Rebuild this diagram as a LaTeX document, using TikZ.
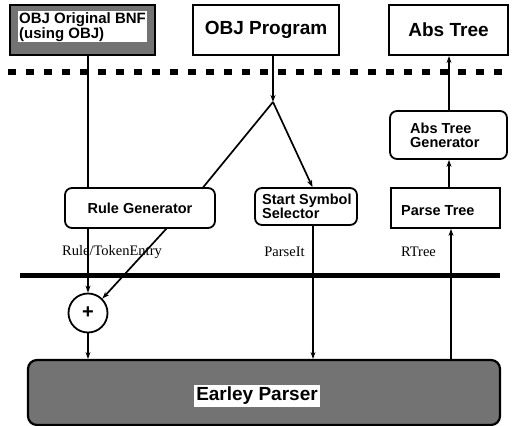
\documentclass[tikz,border=0pt]{standalone}
\usepackage{fontspec}
\setmainfont{Liberation Serif}
\newfontfamily\hv{Liberation Sans}
\usetikzlibrary{arrows.meta}
\begin{document}
\begin{tikzpicture}[x=1pt,y=-1pt,
  box/.style={draw=black,line width=2.2pt,inner sep=0pt,font=\hv\bfseries},
  rbox/.style={draw=black,line width=1.8pt,rounded corners=7pt,inner sep=0pt,font=\hv\bfseries},
  shaded/.style={fill=black!55},
  hl/.style={fill=white,inner sep=1pt,font=\hv\bfseries},
  conn/.style={line width=1.7pt},
  arr/.style={line width=1.7pt,-{Stealth[length=7pt,width=5pt]}},
  lab/.style={font=\fontsize{14.5}{16}\selectfont,inner sep=0pt}
]
\useasboundingbox (0,0) rectangle (512,426);
% top boxes
\node[box,shaded,minimum width=145pt,minimum height=50pt] (bnf) at (82.5,30) {};
\node[hl,anchor=north west,align=left,font=\hv\bfseries\fontsize{15}{12}\selectfont] (bnft) at (18,11) {OBJ Original BNF\\(using OBJ)};
\node[box,minimum width=146pt,minimum height=50pt,font=\hv\bfseries\fontsize{19}{22}\selectfont] (prog) at (266,30) {OBJ Program};
\node[box,minimum width=119pt,minimum height=50pt,font=\hv\bfseries\fontsize{19}{22}\selectfont] (abs) at (448.5,30) {Abs Tree};
% separators
\draw[line width=6pt,dash pattern=on 8pt off 10pt] (8,72) -- (505,72);
\draw[line width=5pt] (20,275) -- (500,275);
% middle boxes
\node[rbox,minimum width=117pt,minimum height=48pt] (absgen) at (448.5,135) {};
\node[anchor=west,align=left,inner sep=0pt,font=\hv\bfseries\fontsize{14.5}{14}\selectfont] at (410,135) {Abs Tree\\Generator};
\node[rbox,minimum width=150pt,minimum height=40pt,font=\hv\bfseries\fontsize{14.5}{16}\selectfont] (rulegen) at (140,208) {\raisebox{-3pt}{Rule Generator}};
\node[rbox,minimum width=102pt,minimum height=37pt] (start) at (306,206.5) {};
\node[anchor=west,align=left,inner sep=0pt,font=\hv\bfseries\fontsize{14.5}{14}\selectfont] at (262,206.5) {Start Symbol\\Selector};
\node[box,line width=1.8pt,minimum width=109pt,minimum height=40pt] (parse) at (445.5,208) {};
\node[anchor=west,inner sep=0pt,font=\hv\bfseries\fontsize{14.5}{16}\selectfont] at (401,211) {Parse Tree};
% plus
\node[circle,draw=black,line width=1.8pt,minimum size=39pt,inner sep=0pt,font=\hv\bfseries\fontsize{20}{20}\selectfont] (plus) at (88,313) {+};
% Earley parser
\node[draw=black,line width=2.2pt,rounded corners=9pt,shaded,minimum width=472pt,minimum height=65pt] (earley) at (264,392.5) {};
\node[hl,inner sep=2pt,font=\hv\bfseries\fontsize{19}{22}\selectfont] (earleyt) at (257,396) {Earley Parser};
% labels
\node[lab] at (112,252) {Rule/TokenEntry};
\node[lab] at (284.5,252) {ParseIt};
\node[lab] at (418.5,252) {RTree};
% connectors
\coordinate (split) at (273,102);
\draw[conn] (bnf.south -| plus.north) -- (rulegen.north -| plus.north);
\draw[arr] (prog.south -| split) -- (split);
\draw[conn] (split) -- (202,188.7);
\draw[arr] (split) -- (start.north -| 312.5,0);
\draw[arr] (rulegen.south -| plus.north) -- (plus.north);
\draw[arr] (167,228) -- (plus.north east);
\draw[arr] (plus.south) -- (earley.north -| plus.south);
\draw[arr] (start.south -| 313,0) -- (earley.north -| 313,0);
\draw[arr] (earley.north -| 451,0) -- (parse.south -| 451,0);
\draw[arr] (parse.north -| 449,0) -- (absgen.south -| 449,0);
\draw[arr] (absgen.north -| 449,0) -- (abs.south -| 449,0);
\end{tikzpicture}
\end{document}
